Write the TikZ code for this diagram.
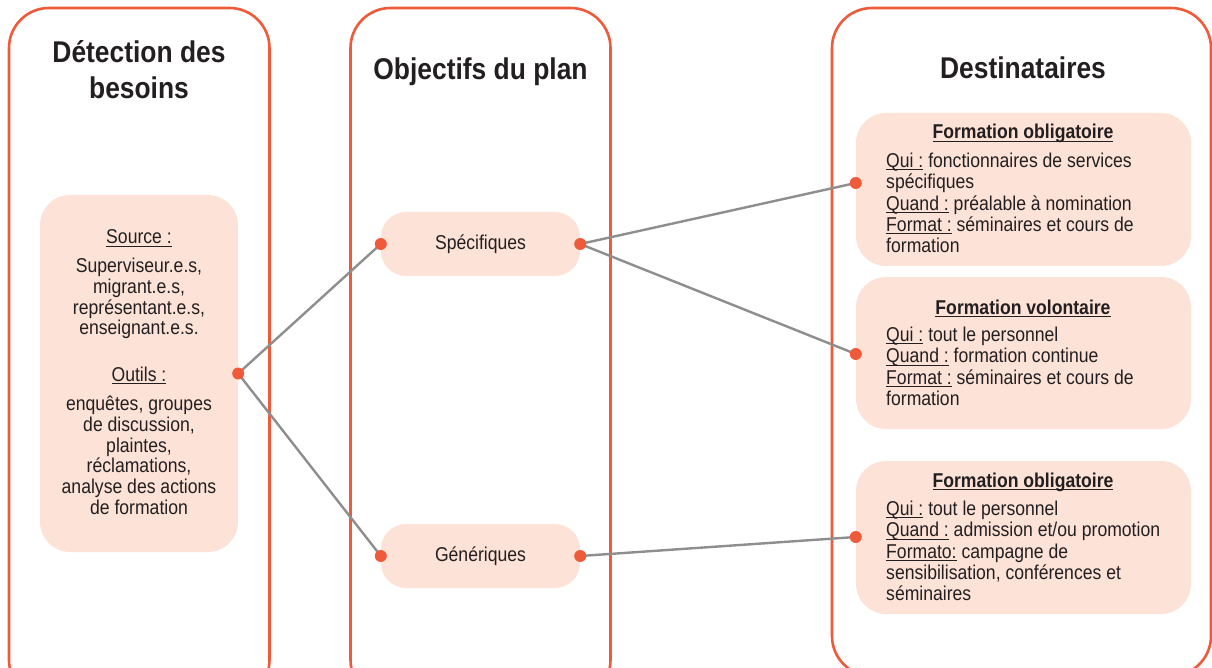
\documentclass[tikz,border=0pt]{standalone}
\usepackage{fontspec}
\setmainfont[FakeStretch=0.88]{Liberation Sans}
\usetikzlibrary{calc}

\definecolor{accent}{HTML}{EF5A3A}
\definecolor{softfill}{HTML}{FDE2D7}
\definecolor{linkgray}{HTML}{8E8E8E}
\definecolor{ink}{HTML}{231F20}

\tikzset{
  column/.style={draw=accent, line width=2.6pt, rounded corners=40pt},
  fillbox/.style={fill=softfill, draw=none, rounded corners=30pt, inner sep=0pt},
  pillbox/.style={fill=softfill, draw=none, rounded corners=25pt, inner sep=0pt,
    minimum width=199pt, minimum height=64pt, text=ink, font=\fontsize{20}{21}\selectfont},
  coltitle/.style={text=ink, align=center, inner sep=0pt,
    font=\bfseries\fontsize{30}{36}\selectfont},
  bodytext/.style={text=ink, inner sep=0pt, font=\fontsize{20}{20.7}\selectfont},
  cardtext/.style={text=ink, inner sep=0pt, align=left, anchor=north west,
    font=\fontsize{20}{21.3}\selectfont},
  boxhead/.style={text=ink, inner sep=0pt, anchor=base,
    font=\bfseries\fontsize{20}{21}\selectfont},
  link/.style={draw=linkgray, line width=2.4pt},
  dot/.style={circle, fill=accent, inner sep=0pt, minimum size=12pt},
}
% underline set at a fixed depth under the baseline, ignoring descenders
\newsavebox{\ulbox}
\newcommand{\ul}[1]{\sbox{\ulbox}{#1}\rlap{\rule[-2.6pt]{\wd\ulbox}{0.9pt}}\usebox{\ulbox}}

\begin{document}
\begin{tikzpicture}[x=1pt, y=-1pt]
\useasboundingbox (0,0) rectangle (1212,668);
\clip (0,0) rectangle (1212,668);

% three column frames
\draw[column] (9,8) rectangle (269.5,700);
\draw[column] (350.5,8) rectangle (610.5,700);
\draw[column] (832,8) rectangle (1211,676);

% column titles
\node[coltitle] (t1) at (139,70) {Détection des\\besoins};
\node[coltitle] (t2) at (480.5,72) {Objectifs du plan};
\node[coltitle] (t3) at (1023,68) {Destinataires};

% needs box
\node[fillbox, minimum width=198pt, minimum height=357pt] (needs) at (139,373.5) {};
\node[bodytext, anchor=base] (src) at (139,244) {\ul{Source :}};
\node[bodytext, align=center, anchor=north] (srcl) at (139,258)
  {Superviseur.e.s,\\migrant.e.s,\\représentant.e.s,\\enseignant.e.s.};
\node[bodytext, anchor=base] (out) at (139,381) {\ul{Outils :}};
\node[bodytext, align=center, anchor=north] (outl) at (139,396)
  {enquêtes, groupes\\de discussion,\\plaintes,\\réclamations,\\analyse des actions\\de formation};

% objectives
\node[pillbox] (spec) at (480.5,244) {Spécifiques};
\node[pillbox] (gen) at (480.5,556) {Génériques};

% recipients
\node[fillbox, minimum width=335pt, minimum height=153pt] (r1) at (1023.5,189.5) {};
\node[fillbox, minimum width=335pt, minimum height=152pt] (r2) at (1023.5,353) {};
\node[fillbox, minimum width=335pt, minimum height=153pt] (r3) at (1023.5,537.5) {};

\node[boxhead] (h1) at (1023,139) {\ul{Formation obligatoire}};
\node[cardtext] (b1) at (886,153)
  {\ul{Qui :} fonctionnaires de services\\spécifiques\\\ul{Quand :} préalable à nomination\\\ul{Format :} séminaires et cours de\\formation};

\node[boxhead] (h2) at (1023,314) {\ul{Formation volontaire}};
\node[cardtext] (b2) at (886,327)
  {\ul{Qui :} tout le personnel\\\ul{Quand :} formation continue\\\ul{Format :} séminaires et cours de\\formation};

\node[boxhead] (h3) at (1023,487) {\ul{Formation obligatoire}};
\node[cardtext] (b3) at (886,501)
  {\ul{Qui :} tout le personnel\\\ul{Quand :} admission et/ou promotion\\\ul{Formato:} campagne de\\sensibilisation, conférences et\\séminaires};

% connection points
\coordinate (pn) at (needs.east);
\coordinate (psw) at (spec.west);
\coordinate (pse) at (spec.east);
\coordinate (pgw) at (gen.west);
\coordinate (pge) at (gen.east);
\coordinate (p1) at ($(r1.west)+(0,-6.5)$);
\coordinate (p2) at ($(r2.west)+(0,1)$);
\coordinate (p3) at ($(r3.west)+(0,-0.5)$);

% connectors
\draw[link] (pn) -- (psw);
\draw[link] (pn) -- (pgw);
\draw[link] (pse) -- (p1);
\draw[link] (pse) -- (p2);
\draw[link] (pge) -- (p3);

% connector end dots
\foreach \p in {pn,psw,pse,pgw,pge,p1,p2,p3}
  \node[dot] at (\p) {};
\end{tikzpicture}
\end{document}
